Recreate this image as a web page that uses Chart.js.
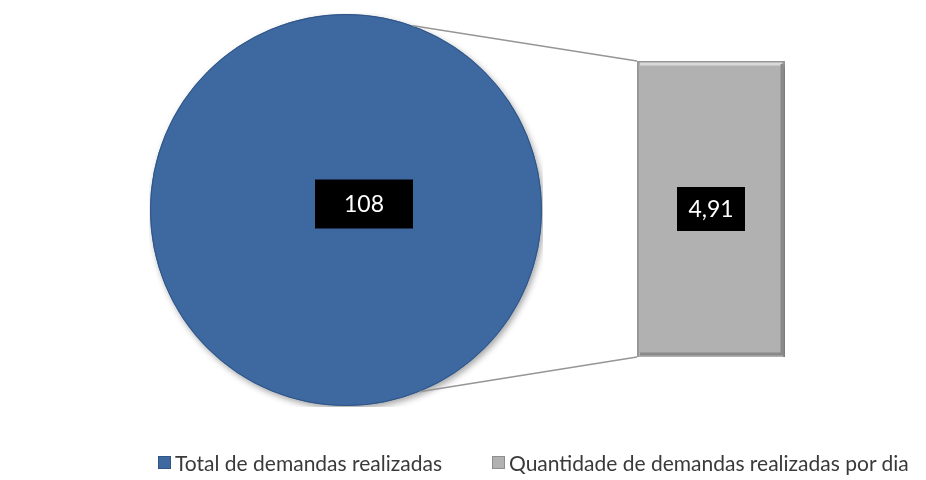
<!DOCTYPE html>
<html lang="pt">
<head>
<meta charset="UTF-8">
<title>Demandas realizadas</title>
<script src="https://cdn.jsdelivr.net/npm/chart.js"></script>
<style>
  body {
    margin: 0;
    width: 926px;
    height: 480px;
    background: #fff;
    position: relative;
    overflow: hidden;
    font-family: Lato, "Open Sans", sans-serif;
  }
  #pieChart { position: absolute; left: 149px; top: 13px; }
  #barChart { position: absolute; left: 0; top: 0; }
  #legend {
    position: absolute;
    left: 158px;
    top: 450px;
    font-size: 21px;
    color: #3a3a3a;
    white-space: nowrap;
    display: flex;
    align-items: center;
  }
  #legend span.box {
    display: inline-block;
    width: 11px;
    height: 11px;
    margin-right: 4px;
  }
  #legend .item { display: inline-flex; align-items: center; margin-right: 50px; }
</style>
</head>
<body>

<canvas id="pieChart" width="394" height="394"></canvas>
<canvas id="barChart" width="926" height="480"></canvas>
<div id="legend"></div>

<script>
  // data
  const pieLabels = ['Total de demandas realizadas'];
  const pieValues = [108];
  const barLabels = ['Quantidade de demandas realizadas por dia'];
  const barValues = [4.91];

  const blue = '#3d68a0';
  const gray = '#b1b1b1';

  const fmt = v => v.toLocaleString('pt-BR');

  // shadow under the marks + black value boxes on top
  const markStyle = {
    id: 'markStyle',
    beforeDatasetsDraw(chart) {
      const ctx = chart.ctx;
      ctx.save();
      ctx.shadowColor = 'rgba(0,0,0,0.35)';
      ctx.shadowBlur = 6;
      ctx.shadowOffsetX = 2;
      ctx.shadowOffsetY = 3;
    },
    afterDatasetsDraw(chart, args, opts) {
      const ctx = chart.ctx;
      ctx.restore();
      const el = chart.getDatasetMeta(0).data[0];
      const value = chart.data.datasets[0].data[0];
      let cx, cy;
      if (chart.config.type === 'pie') {
        // thin dark rim round the pie
        ctx.save();
        ctx.strokeStyle = '#2f5586';
        ctx.lineWidth = 1;
        ctx.beginPath();
        ctx.arc(el.x, el.y, el.outerRadius - 0.5, 0, Math.PI * 2);
        ctx.stroke();
        ctx.restore();
        cx = el.x + opts.dx;
        cy = el.y + opts.dy;
      } else {
        // bevel: light top edge, darker right and bottom edges
        const l = el.x - el.width / 2 + 1, r = el.x + el.width / 2 - 1;
        const t = el.y + 1, b = el.base - 1;
        ctx.save();
        ctx.lineWidth = 3;
        ctx.strokeStyle = '#d9d9d9';
        ctx.beginPath();
        ctx.moveTo(l + 2, t + 2); ctx.lineTo(r - 2, t + 2);
        ctx.stroke();
        ctx.strokeStyle = '#8a8a8a';
        ctx.beginPath();
        ctx.moveTo(r - 2, t + 2); ctx.lineTo(r - 2, b - 2); ctx.lineTo(l + 2, b - 2);
        ctx.stroke();
        ctx.restore();
        cx = el.x;
        cy = (el.y + el.base) / 2;
      }
      ctx.save();
      ctx.fillStyle = '#000';
      ctx.fillRect(cx - opts.w / 2, cy - opts.h / 2, opts.w, opts.h);
      ctx.fillStyle = '#fff';
      ctx.font = '23px Lato, sans-serif';
      ctx.textAlign = 'center';
      ctx.textBaseline = 'middle';
      ctx.fillText(fmt(value), cx, cy + 1);
      ctx.restore();
    }
  };

  const pieChart = new Chart(document.getElementById('pieChart'), {
    type: 'pie',
    data: {
      labels: pieLabels,
      datasets: [{
        data: pieValues,
        backgroundColor: blue,
        borderWidth: 0
      }]
    },
    options: {
      responsive: false,
      animation: false,
      layout: { padding: 1 },
      plugins: {
        legend: { display: false },
        tooltip: { enabled: false },
        markStyle: { dx: 18, dy: -6, w: 98, h: 49 }
      }
    },
    plugins: [markStyle]
  });

  // lines from the pie edge to the bar corners
  const connectors = {
    id: 'connectors',
    beforeDatasetsDraw(chart) {
      const arc = pieChart.getDatasetMeta(0).data[0];
      const ox = 149, oy = 13;
      const cx = arc.x + ox, cy = arc.y + oy, r = arc.outerRadius;
      const bar = chart.getDatasetMeta(0).data[0];
      const left = bar.x - bar.width / 2;
      const top = Math.round(bar.y), bottom = Math.round(bar.base);
      const aTop = 20 * Math.PI / 180, aBot = 22 * Math.PI / 180;
      const ctx = chart.ctx;
      ctx.save();
      ctx.strokeStyle = '#969696';
      ctx.lineWidth = 1.5;
      ctx.beginPath();
      ctx.moveTo(cx + r * Math.sin(aTop), cy - r * Math.cos(aTop));
      ctx.lineTo(left, top);
      ctx.moveTo(cx + r * Math.sin(aBot), cy + r * Math.cos(aBot));
      ctx.lineTo(left, bottom);
      ctx.stroke();
      ctx.restore();
    }
  };

  new Chart(document.getElementById('barChart'), {
    type: 'bar',
    data: {
      labels: barLabels,
      datasets: [{
        data: barValues,
        backgroundColor: gray,
        borderColor: '#9a9a9a',
        borderWidth: 2,
        barPercentage: 1,
        categoryPercentage: 1
      }]
    },
    options: {
      responsive: false,
      animation: false,
      layout: { padding: { left: 637, right: 141, top: 61, bottom: 123 } },
      scales: {
        x: { display: false },
        y: { display: false, min: 0, max: barValues[0] }
      },
      plugins: {
        legend: { display: false },
        tooltip: { enabled: false },
        markStyle: { w: 68, h: 44 }
      }
    },
    plugins: [connectors, markStyle]
  });

  // legend
  const legend = document.getElementById('legend');
  [[pieLabels[0], blue, '#2f5586'], [barLabels[0], gray, '#8e8e8e']].forEach(([text, fill, border]) => {
    const item = document.createElement('span');
    item.className = 'item';
    item.innerHTML = `<span class="box" style="background:${fill};border:1px solid ${border}"></span>${text}`;
    legend.appendChild(item);
  });
</script>

</body>
</html>
